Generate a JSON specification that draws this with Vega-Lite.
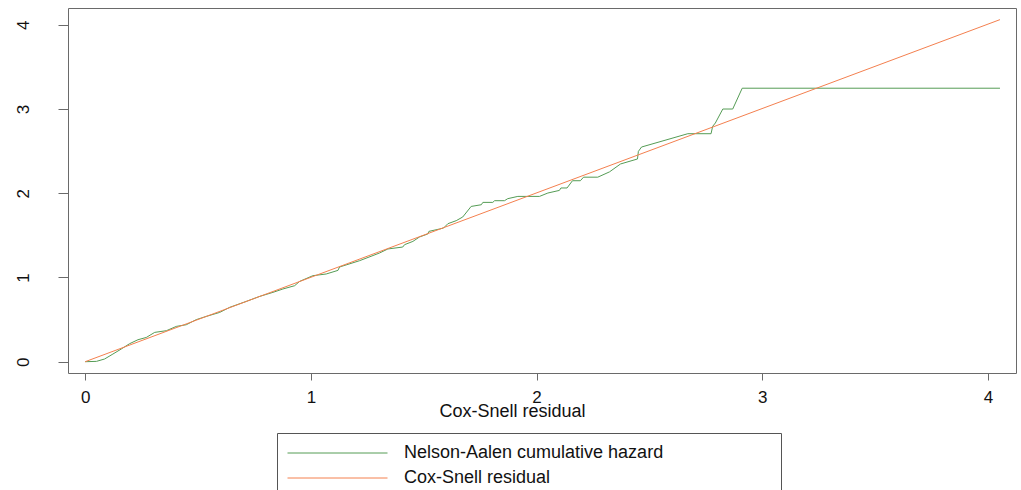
{
  "$schema": "https://vega.github.io/schema/vega-lite/v6.json",
  "autosize": {"type": "none"},
  "width": 948,
  "height": 365,
  "padding": {"left": 68, "top": 8, "right": 5, "bottom": 117},
  "background": "white",
  "config": {
    "view": {"stroke": "#6a6a6a", "strokeWidth": 1},
    "font": "Liberation Sans",
    "axis": {"grid": false, "domain": false, "tickColor": "#6a6a6a", "labelColor": "#111", "titleColor": "#111", "labelFont": "Liberation Sans", "titleFont": "Liberation Sans", "titleFontWeight": "normal"}
  },
  "data": {
    "values": [
      {"x": 0.000, "y": 0.000, "series": "Nelson-Aalen cumulative hazard", "o": 1},
      {"x": 0.050, "y": 0.004, "series": "Nelson-Aalen cumulative hazard", "o": 2},
      {"x": 0.086, "y": 0.032, "series": "Nelson-Aalen cumulative hazard", "o": 3},
      {"x": 0.123, "y": 0.091, "series": "Nelson-Aalen cumulative hazard", "o": 4},
      {"x": 0.160, "y": 0.151, "series": "Nelson-Aalen cumulative hazard", "o": 5},
      {"x": 0.197, "y": 0.214, "series": "Nelson-Aalen cumulative hazard", "o": 6},
      {"x": 0.234, "y": 0.261, "series": "Nelson-Aalen cumulative hazard", "o": 7},
      {"x": 0.271, "y": 0.288, "series": "Nelson-Aalen cumulative hazard", "o": 8},
      {"x": 0.308, "y": 0.348, "series": "Nelson-Aalen cumulative hazard", "o": 9},
      {"x": 0.360, "y": 0.368, "series": "Nelson-Aalen cumulative hazard", "o": 10},
      {"x": 0.404, "y": 0.419, "series": "Nelson-Aalen cumulative hazard", "o": 11},
      {"x": 0.448, "y": 0.439, "series": "Nelson-Aalen cumulative hazard", "o": 12},
      {"x": 0.492, "y": 0.499, "series": "Nelson-Aalen cumulative hazard", "o": 13},
      {"x": 0.537, "y": 0.538, "series": "Nelson-Aalen cumulative hazard", "o": 14},
      {"x": 0.596, "y": 0.585, "series": "Nelson-Aalen cumulative hazard", "o": 15},
      {"x": 0.640, "y": 0.645, "series": "Nelson-Aalen cumulative hazard", "o": 16},
      {"x": 0.714, "y": 0.716, "series": "Nelson-Aalen cumulative hazard", "o": 17},
      {"x": 0.773, "y": 0.775, "series": "Nelson-Aalen cumulative hazard", "o": 18},
      {"x": 0.832, "y": 0.823, "series": "Nelson-Aalen cumulative hazard", "o": 19},
      {"x": 0.876, "y": 0.863, "series": "Nelson-Aalen cumulative hazard", "o": 20},
      {"x": 0.928, "y": 0.902, "series": "Nelson-Aalen cumulative hazard", "o": 21},
      {"x": 0.950, "y": 0.953, "series": "Nelson-Aalen cumulative hazard", "o": 22},
      {"x": 1.009, "y": 1.021, "series": "Nelson-Aalen cumulative hazard", "o": 23},
      {"x": 1.068, "y": 1.041, "series": "Nelson-Aalen cumulative hazard", "o": 24},
      {"x": 1.120, "y": 1.084, "series": "Nelson-Aalen cumulative hazard", "o": 25},
      {"x": 1.127, "y": 1.124, "series": "Nelson-Aalen cumulative hazard", "o": 26},
      {"x": 1.216, "y": 1.199, "series": "Nelson-Aalen cumulative hazard", "o": 27},
      {"x": 1.304, "y": 1.290, "series": "Nelson-Aalen cumulative hazard", "o": 28},
      {"x": 1.341, "y": 1.338, "series": "Nelson-Aalen cumulative hazard", "o": 29},
      {"x": 1.407, "y": 1.361, "series": "Nelson-Aalen cumulative hazard", "o": 30},
      {"x": 1.415, "y": 1.389, "series": "Nelson-Aalen cumulative hazard", "o": 31},
      {"x": 1.452, "y": 1.428, "series": "Nelson-Aalen cumulative hazard", "o": 32},
      {"x": 1.481, "y": 1.480, "series": "Nelson-Aalen cumulative hazard", "o": 33},
      {"x": 1.518, "y": 1.516, "series": "Nelson-Aalen cumulative hazard", "o": 34},
      {"x": 1.523, "y": 1.547, "series": "Nelson-Aalen cumulative hazard", "o": 35},
      {"x": 1.570, "y": 1.575, "series": "Nelson-Aalen cumulative hazard", "o": 36},
      {"x": 1.588, "y": 1.587, "series": "Nelson-Aalen cumulative hazard", "o": 37},
      {"x": 1.607, "y": 1.638, "series": "Nelson-Aalen cumulative hazard", "o": 38},
      {"x": 1.644, "y": 1.674, "series": "Nelson-Aalen cumulative hazard", "o": 39},
      {"x": 1.673, "y": 1.718, "series": "Nelson-Aalen cumulative hazard", "o": 40},
      {"x": 1.710, "y": 1.843, "series": "Nelson-Aalen cumulative hazard", "o": 41},
      {"x": 1.755, "y": 1.863, "series": "Nelson-Aalen cumulative hazard", "o": 42},
      {"x": 1.762, "y": 1.891, "series": "Nelson-Aalen cumulative hazard", "o": 43},
      {"x": 1.806, "y": 1.891, "series": "Nelson-Aalen cumulative hazard", "o": 44},
      {"x": 1.814, "y": 1.911, "series": "Nelson-Aalen cumulative hazard", "o": 45},
      {"x": 1.858, "y": 1.911, "series": "Nelson-Aalen cumulative hazard", "o": 46},
      {"x": 1.872, "y": 1.935, "series": "Nelson-Aalen cumulative hazard", "o": 47},
      {"x": 1.917, "y": 1.962, "series": "Nelson-Aalen cumulative hazard", "o": 48},
      {"x": 2.013, "y": 1.962, "series": "Nelson-Aalen cumulative hazard", "o": 49},
      {"x": 2.050, "y": 2.002, "series": "Nelson-Aalen cumulative hazard", "o": 50},
      {"x": 2.101, "y": 2.033, "series": "Nelson-Aalen cumulative hazard", "o": 51},
      {"x": 2.108, "y": 2.062, "series": "Nelson-Aalen cumulative hazard", "o": 52},
      {"x": 2.135, "y": 2.062, "series": "Nelson-Aalen cumulative hazard", "o": 53},
      {"x": 2.159, "y": 2.148, "series": "Nelson-Aalen cumulative hazard", "o": 54},
      {"x": 2.194, "y": 2.148, "series": "Nelson-Aalen cumulative hazard", "o": 55},
      {"x": 2.208, "y": 2.190, "series": "Nelson-Aalen cumulative hazard", "o": 56},
      {"x": 2.271, "y": 2.190, "series": "Nelson-Aalen cumulative hazard", "o": 57},
      {"x": 2.323, "y": 2.253, "series": "Nelson-Aalen cumulative hazard", "o": 58},
      {"x": 2.372, "y": 2.347, "series": "Nelson-Aalen cumulative hazard", "o": 59},
      {"x": 2.447, "y": 2.406, "series": "Nelson-Aalen cumulative hazard", "o": 60},
      {"x": 2.451, "y": 2.496, "series": "Nelson-Aalen cumulative hazard", "o": 61},
      {"x": 2.465, "y": 2.548, "series": "Nelson-Aalen cumulative hazard", "o": 62},
      {"x": 2.670, "y": 2.706, "series": "Nelson-Aalen cumulative hazard", "o": 63},
      {"x": 2.773, "y": 2.706, "series": "Nelson-Aalen cumulative hazard", "o": 64},
      {"x": 2.780, "y": 2.793, "series": "Nelson-Aalen cumulative hazard", "o": 65},
      {"x": 2.792, "y": 2.833, "series": "Nelson-Aalen cumulative hazard", "o": 66},
      {"x": 2.825, "y": 2.999, "series": "Nelson-Aalen cumulative hazard", "o": 67},
      {"x": 2.869, "y": 2.999, "series": "Nelson-Aalen cumulative hazard", "o": 68},
      {"x": 2.911, "y": 3.246, "series": "Nelson-Aalen cumulative hazard", "o": 69},
      {"x": 4.053, "y": 3.246, "series": "Nelson-Aalen cumulative hazard", "o": 70},
      {"x": 0.000, "y": 0.000, "series": "Cox-Snell residual", "o": 1},
      {"x": 4.053, "y": 4.060, "series": "Cox-Snell residual", "o": 2}
    ]
  },
  "mark": {"type": "line", "strokeWidth": 1, "clip": true},
  "encoding": {
    "x": {
      "field": "x", "type": "quantitative",
      "scale": {"domain": [-0.076, 4.124], "nice": false, "zero": false},
      "axis": {
        "values": [0, 1, 2, 3, 4], "format": "d",
        "title": "Cox-Snell residual", "titleFontSize": 18, "titleX": 444, "titleY": 43.5,
        "titleAlign": "center", "titleBaseline": "alphabetic",
        "tickSize": 7, "labelFontSize": 17, "labelPadding": 9.5, "labelFlush": false
      }
    },
    "y": {
      "field": "y", "type": "quantitative",
      "scale": {"domain": [-0.134, 4.198], "nice": false, "zero": false},
      "axis": {
        "values": [0, 1, 2, 3, 4], "format": "d", "title": null,
        "tickSize": 10, "labelFontSize": 17, "labelAngle": 270,
        "labelAlign": "center", "labelBaseline": "bottom", "labelPadding": 26, "labelFlush": false
      }
    },
    "color": {
      "field": "series", "type": "nominal",
      "scale": {"domain": ["Nelson-Aalen cumulative hazard", "Cox-Snell residual"], "range": ["#559c55", "#f4804f"]},
      "legend": {
        "orient": "none", "legendX": 209, "legendY": 425,
        "title": " ", "titleOrient": "right", "titlePadding": 108, "titleFontSize": 18,
        "symbolType": "stroke", "symbolSize": 10000, "symbolStrokeWidth": 1,
        "clipHeight": 20, "rowPadding": 5, "labelOffset": 16, "padding": 10,
        "strokeColor": "#555", "fillColor": "white",
        "labelFontSize": 18, "labelColor": "#111", "labelFont": "Liberation Sans", "labelLimit": 400
      }
    },
    "order": {"field": "o", "type": "quantitative"}
  }
}
